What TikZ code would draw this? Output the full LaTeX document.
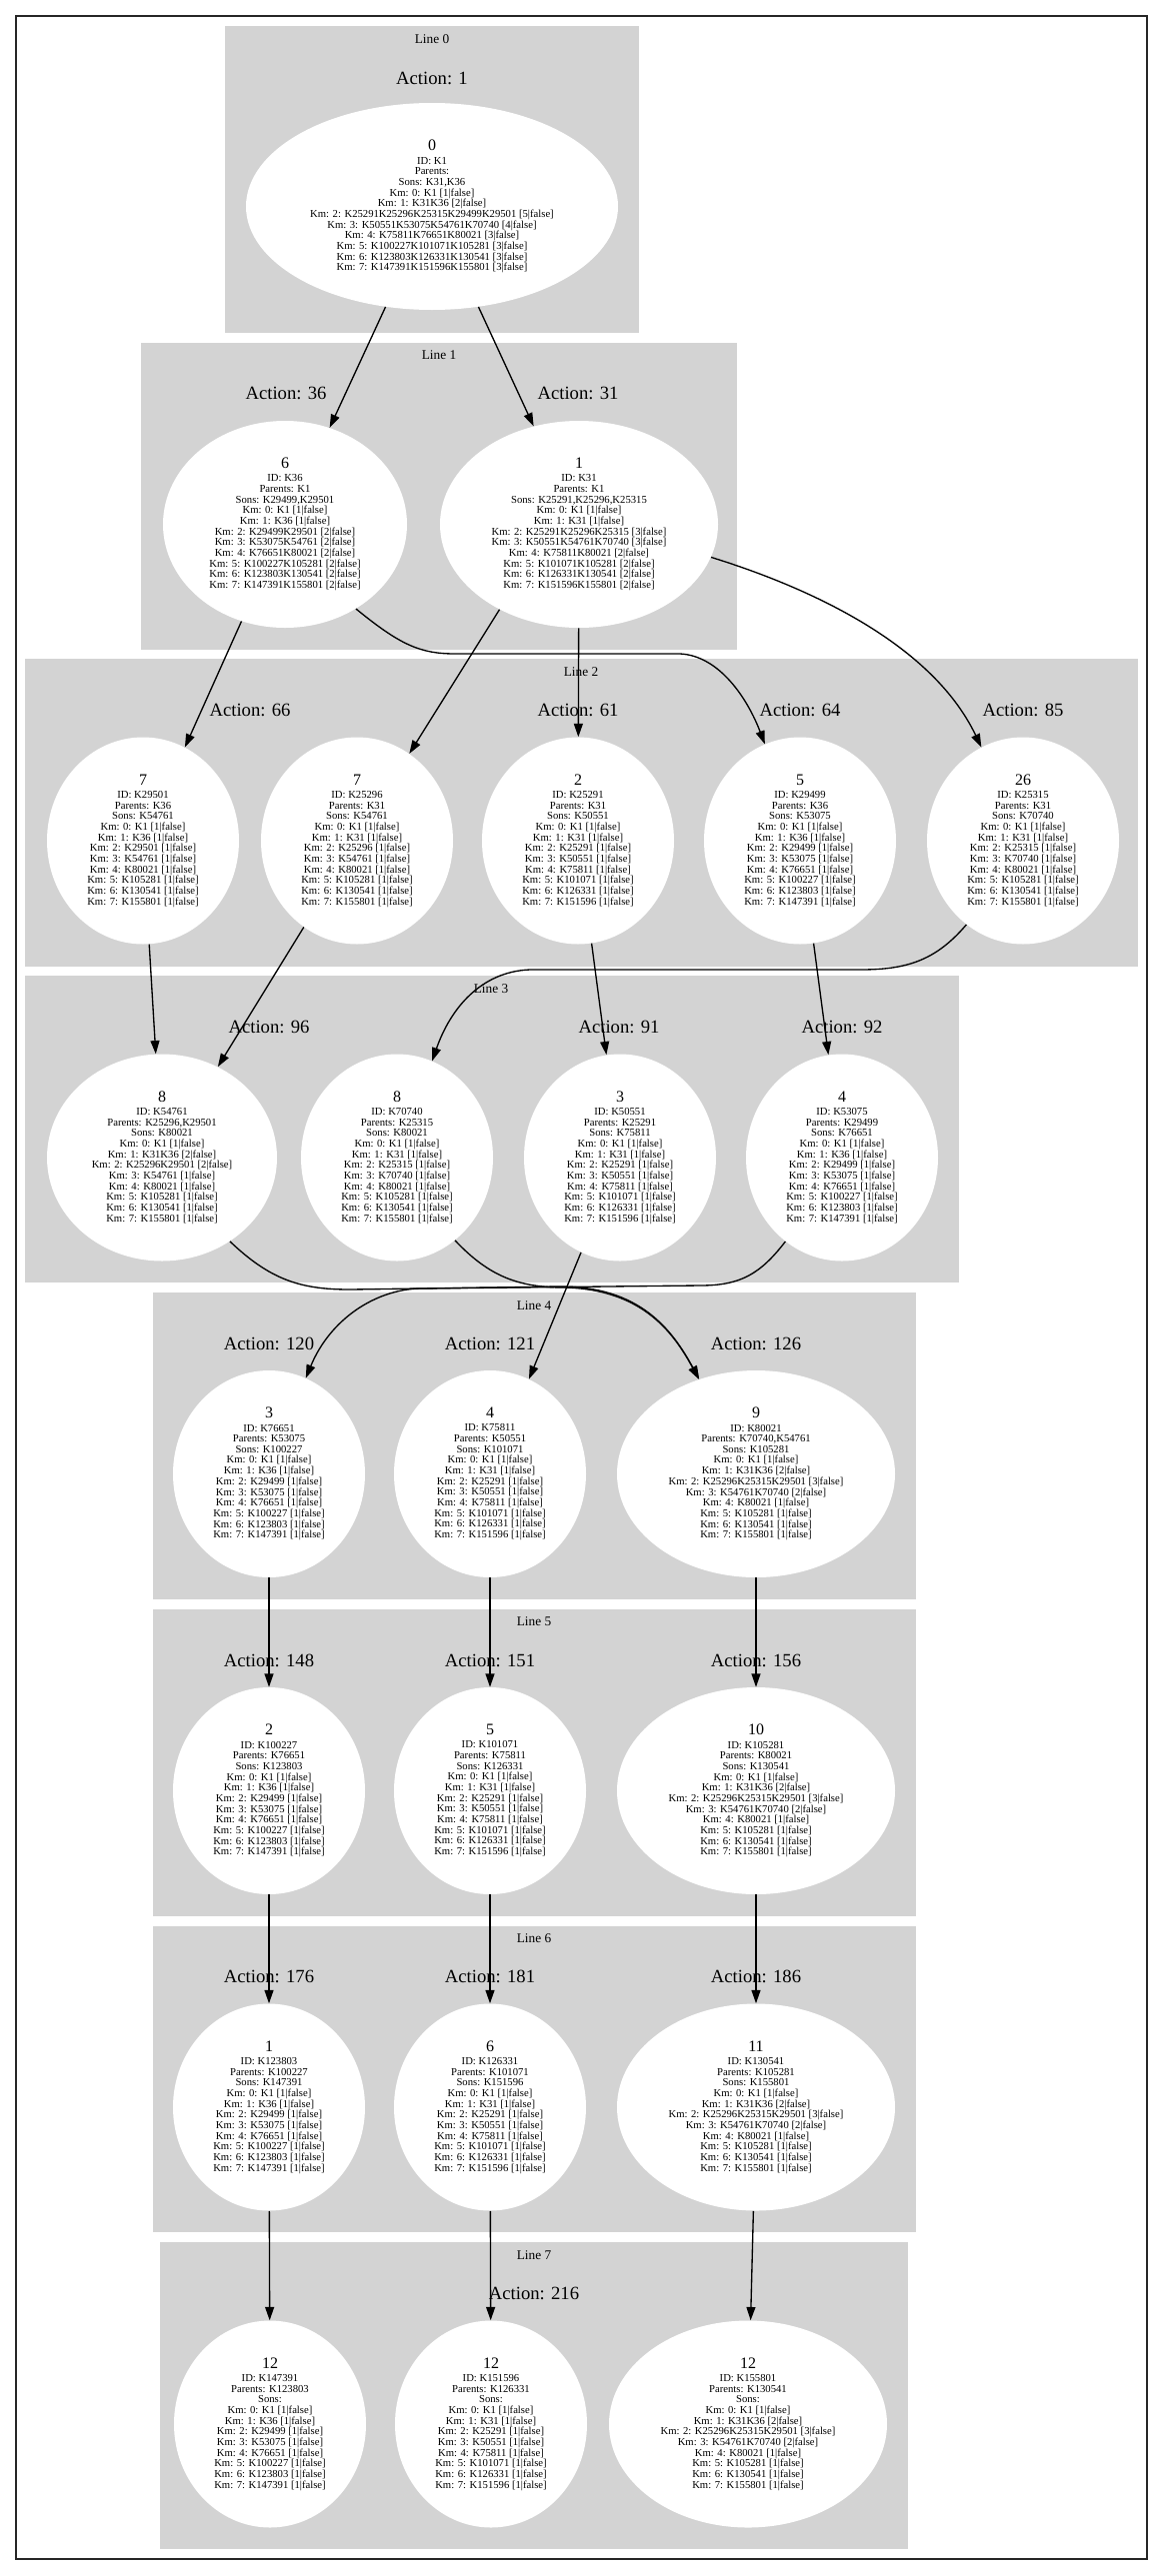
\documentclass[tikz,border=0pt]{standalone}
\usepackage{fontspec}
\setmainfont{Liberation Serif}
\usepackage{tikz}
\usetikzlibrary{arrows.meta,calc}
\usetikzlibrary{positioning,shapes.geometric}
\definecolor{clgray}{HTML}{D3D3D3}

\begin{document}
\begin{tikzpicture}[x=0.75pt,y=-0.75pt]
\tikzstyle{cluster}=[fill=clgray]
\tikzstyle{state}=[ellipse,fill=white,inner sep=0pt,align=center,font=\fontsize{8}{8}\selectfont,minimum width=144pt,minimum height=155.25pt]
\tikzstyle{wide}=[state,minimum width=208.5pt]
\tikzstyle{linelab}=[font=\fontsize{10}{12}\selectfont]
\tikzstyle{actlab}=[font=\fontsize{14}{16}\selectfont]
\tikzstyle{edge}=[draw,line width=1pt,-{Triangle[length=10pt,width=6.7pt]}]
\useasboundingbox (0,0) rectangle (1164,2577);
\draw[line width=1.2pt,black!85] (16,16) rectangle (1147,2560);

% clusters
\fill[cluster] (225,26) rectangle (639,333);
\fill[cluster] (141,343) rectangle (737,650);
\fill[cluster] (25,659) rectangle (1138,967);
\fill[cluster] (25,976) rectangle (959,1283);
\fill[cluster] (153,1293) rectangle (916,1600);
\fill[cluster] (153,1610) rectangle (916,1917);
\fill[cluster] (153,1927) rectangle (916,2233);
\fill[cluster] (160,2243) rectangle (908,2550);

\node[linelab] (L0) at (432,39) {Line 0};
\node[linelab] (L1) at (439,355) {Line 1};
\node[linelab] (L2) at (581,672) {Line 2};
\node[linelab] (L3) at (491,989) {Line 3};
\node[linelab] (L4) at (534,1306) {Line 4};
\node[linelab] (L5) at (534,1622) {Line 5};
\node[linelab] (L6) at (534,1939) {Line 6};
\node[linelab] (L7) at (534,2256) {Line 7};

\node[actlab] (A1) at (432,78) {Action: 1};
\node[actlab] (A36) at (286,393) {Action: 36};
\node[actlab] (A31) at (578,393) {Action: 31};
\node[actlab] (A66) at (250,710) {Action: 66};
\node[actlab] (A61) at (578,710) {Action: 61};
\node[actlab] (A64) at (800,710) {Action: 64};
\node[actlab] (A85) at (1023,710) {Action: 85};
\node[actlab] (A96) at (269,1027) {Action: 96};
\node[actlab] (A91) at (619,1027) {Action: 91};
\node[actlab] (A92) at (842,1027) {Action: 92};
\node[actlab] (A120) at (269,1344) {Action: 120};
\node[actlab] (A121) at (490,1344) {Action: 121};
\node[actlab] (A126) at (756,1344) {Action: 126};
\node[actlab] (A148) at (269,1661) {Action: 148};
\node[actlab] (A151) at (490,1661) {Action: 151};
\node[actlab] (A156) at (756,1661) {Action: 156};
\node[actlab] (A176) at (269,1977) {Action: 176};
\node[actlab] (A181) at (490,1977) {Action: 181};
\node[actlab] (A186) at (756,1977) {Action: 186};
\node[actlab] (A216) at (534,2294) {Action: 216};

% Line 0
\node[state,minimum width=279pt] (n0) at (432,206.5) {{\large 0}\\[2pt]ID: K1\\Parents: \\Sons: K31,K36\\Km: 0: K1 [1|false]\\Km: 1: K31K36 [2|false]\\Km: 2: K25291K25296K25315K29499K29501 [5|false]\\Km: 3: K50551K53075K54761K70740 [4|false]\\Km: 4: K75811K76651K80021 [3|false]\\Km: 5: K100227K101071K105281 [3|false]\\Km: 6: K123803K126331K130541 [3|false]\\Km: 7: K147391K151596K155801 [3|false]};

% Line 1
\node[state,minimum width=183pt] (n6) at (285,524.5) {{\large 6}\\[2pt]ID: K36\\Parents: K1\\Sons: K29499,K29501\\Km: 0: K1 [1|false]\\Km: 1: K36 [1|false]\\Km: 2: K29499K29501 [2|false]\\Km: 3: K53075K54761 [2|false]\\Km: 4: K76651K80021 [2|false]\\Km: 5: K100227K105281 [2|false]\\Km: 6: K123803K130541 [2|false]\\Km: 7: K147391K155801 [2|false]};
\node[wide] (n1) at (579,524.5) {{\large 1}\\[2pt]ID: K31\\Parents: K1\\Sons: K25291,K25296,K25315\\Km: 0: K1 [1|false]\\Km: 1: K31 [1|false]\\Km: 2: K25291K25296K25315 [3|false]\\Km: 3: K50551K54761K70740 [3|false]\\Km: 4: K75811K80021 [2|false]\\Km: 5: K101071K105281 [2|false]\\Km: 6: K126331K130541 [2|false]\\Km: 7: K151596K155801 [2|false]};

% Line 2
\node[state] (n7a) at (143,841) {{\large 7}\\[2pt]ID: K29501\\Parents: K36\\Sons: K54761\\Km: 0: K1 [1|false]\\Km: 1: K36 [1|false]\\Km: 2: K29501 [1|false]\\Km: 3: K54761 [1|false]\\Km: 4: K80021 [1|false]\\Km: 5: K105281 [1|false]\\Km: 6: K130541 [1|false]\\Km: 7: K155801 [1|false]};
\node[state] (n7b) at (357,841) {{\large 7}\\[2pt]ID: K25296\\Parents: K31\\Sons: K54761\\Km: 0: K1 [1|false]\\Km: 1: K31 [1|false]\\Km: 2: K25296 [1|false]\\Km: 3: K54761 [1|false]\\Km: 4: K80021 [1|false]\\Km: 5: K105281 [1|false]\\Km: 6: K130541 [1|false]\\Km: 7: K155801 [1|false]};
\node[state] (n2) at (578,841) {{\large 2}\\[2pt]ID: K25291\\Parents: K31\\Sons: K50551\\Km: 0: K1 [1|false]\\Km: 1: K31 [1|false]\\Km: 2: K25291 [1|false]\\Km: 3: K50551 [1|false]\\Km: 4: K75811 [1|false]\\Km: 5: K101071 [1|false]\\Km: 6: K126331 [1|false]\\Km: 7: K151596 [1|false]};
\node[state] (n5) at (800,841) {{\large 5}\\[2pt]ID: K29499\\Parents: K36\\Sons: K53075\\Km: 0: K1 [1|false]\\Km: 1: K36 [1|false]\\Km: 2: K29499 [1|false]\\Km: 3: K53075 [1|false]\\Km: 4: K76651 [1|false]\\Km: 5: K100227 [1|false]\\Km: 6: K123803 [1|false]\\Km: 7: K147391 [1|false]};
\node[state] (n26) at (1023,841) {{\large 26}\\[2pt]ID: K25315\\Parents: K31\\Sons: K70740\\Km: 0: K1 [1|false]\\Km: 1: K31 [1|false]\\Km: 2: K25315 [1|false]\\Km: 3: K70740 [1|false]\\Km: 4: K80021 [1|false]\\Km: 5: K105281 [1|false]\\Km: 6: K130541 [1|false]\\Km: 7: K155801 [1|false]};

% Line 3
\node[state,minimum width=172.5pt] (n8a) at (162,1158) {{\large 8}\\[2pt]ID: K54761\\Parents: K25296,K29501\\Sons: K80021\\Km: 0: K1 [1|false]\\Km: 1: K31K36 [2|false]\\Km: 2: K25296K29501 [2|false]\\Km: 3: K54761 [1|false]\\Km: 4: K80021 [1|false]\\Km: 5: K105281 [1|false]\\Km: 6: K130541 [1|false]\\Km: 7: K155801 [1|false]};
\node[state] (n8b) at (397,1158) {{\large 8}\\[2pt]ID: K70740\\Parents: K25315\\Sons: K80021\\Km: 0: K1 [1|false]\\Km: 1: K31 [1|false]\\Km: 2: K25315 [1|false]\\Km: 3: K70740 [1|false]\\Km: 4: K80021 [1|false]\\Km: 5: K105281 [1|false]\\Km: 6: K130541 [1|false]\\Km: 7: K155801 [1|false]};
\node[state] (n3) at (620,1158) {{\large 3}\\[2pt]ID: K50551\\Parents: K25291\\Sons: K75811\\Km: 0: K1 [1|false]\\Km: 1: K31 [1|false]\\Km: 2: K25291 [1|false]\\Km: 3: K50551 [1|false]\\Km: 4: K75811 [1|false]\\Km: 5: K101071 [1|false]\\Km: 6: K126331 [1|false]\\Km: 7: K151596 [1|false]};
\node[state] (n4) at (842,1158) {{\large 4}\\[2pt]ID: K53075\\Parents: K29499\\Sons: K76651\\Km: 0: K1 [1|false]\\Km: 1: K36 [1|false]\\Km: 2: K29499 [1|false]\\Km: 3: K53075 [1|false]\\Km: 4: K76651 [1|false]\\Km: 5: K100227 [1|false]\\Km: 6: K123803 [1|false]\\Km: 7: K147391 [1|false]};

% Line 4
\node[state] (n3b) at (269,1474.5) {{\large 3}\\[2pt]ID: K76651\\Parents: K53075\\Sons: K100227\\Km: 0: K1 [1|false]\\Km: 1: K36 [1|false]\\Km: 2: K29499 [1|false]\\Km: 3: K53075 [1|false]\\Km: 4: K76651 [1|false]\\Km: 5: K100227 [1|false]\\Km: 6: K123803 [1|false]\\Km: 7: K147391 [1|false]};
\node[state] (n4b) at (490,1474.5) {{\large 4}\\[2pt]ID: K75811\\Parents: K50551\\Sons: K101071\\Km: 0: K1 [1|false]\\Km: 1: K31 [1|false]\\Km: 2: K25291 [1|false]\\Km: 3: K50551 [1|false]\\Km: 4: K75811 [1|false]\\Km: 5: K101071 [1|false]\\Km: 6: K126331 [1|false]\\Km: 7: K151596 [1|false]};
\node[wide] (n9) at (756,1474.5) {{\large 9}\\[2pt]ID: K80021\\Parents: K70740,K54761\\Sons: K105281\\Km: 0: K1 [1|false]\\Km: 1: K31K36 [2|false]\\Km: 2: K25296K25315K29501 [3|false]\\Km: 3: K54761K70740 [2|false]\\Km: 4: K80021 [1|false]\\Km: 5: K105281 [1|false]\\Km: 6: K130541 [1|false]\\Km: 7: K155801 [1|false]};

% Line 5
\node[state] (n2c) at (269,1791.5) {{\large 2}\\[2pt]ID: K100227\\Parents: K76651\\Sons: K123803\\Km: 0: K1 [1|false]\\Km: 1: K36 [1|false]\\Km: 2: K29499 [1|false]\\Km: 3: K53075 [1|false]\\Km: 4: K76651 [1|false]\\Km: 5: K100227 [1|false]\\Km: 6: K123803 [1|false]\\Km: 7: K147391 [1|false]};
\node[state] (n5c) at (490,1791.5) {{\large 5}\\[2pt]ID: K101071\\Parents: K75811\\Sons: K126331\\Km: 0: K1 [1|false]\\Km: 1: K31 [1|false]\\Km: 2: K25291 [1|false]\\Km: 3: K50551 [1|false]\\Km: 4: K75811 [1|false]\\Km: 5: K101071 [1|false]\\Km: 6: K126331 [1|false]\\Km: 7: K151596 [1|false]};
\node[wide] (n10) at (756,1791.5) {{\large 10}\\[2pt]ID: K105281\\Parents: K80021\\Sons: K130541\\Km: 0: K1 [1|false]\\Km: 1: K31K36 [2|false]\\Km: 2: K25296K25315K29501 [3|false]\\Km: 3: K54761K70740 [2|false]\\Km: 4: K80021 [1|false]\\Km: 5: K105281 [1|false]\\Km: 6: K130541 [1|false]\\Km: 7: K155801 [1|false]};

% Line 6
\node[state] (n1c) at (269,2108) {{\large 1}\\[2pt]ID: K123803\\Parents: K100227\\Sons: K147391\\Km: 0: K1 [1|false]\\Km: 1: K36 [1|false]\\Km: 2: K29499 [1|false]\\Km: 3: K53075 [1|false]\\Km: 4: K76651 [1|false]\\Km: 5: K100227 [1|false]\\Km: 6: K123803 [1|false]\\Km: 7: K147391 [1|false]};
\node[state] (n6c) at (490,2108) {{\large 6}\\[2pt]ID: K126331\\Parents: K101071\\Sons: K151596\\Km: 0: K1 [1|false]\\Km: 1: K31 [1|false]\\Km: 2: K25291 [1|false]\\Km: 3: K50551 [1|false]\\Km: 4: K75811 [1|false]\\Km: 5: K101071 [1|false]\\Km: 6: K126331 [1|false]\\Km: 7: K151596 [1|false]};
\node[wide] (n11) at (756,2108) {{\large 11}\\[2pt]ID: K130541\\Parents: K105281\\Sons: K155801\\Km: 0: K1 [1|false]\\Km: 1: K31K36 [2|false]\\Km: 2: K25296K25315K29501 [3|false]\\Km: 3: K54761K70740 [2|false]\\Km: 4: K80021 [1|false]\\Km: 5: K105281 [1|false]\\Km: 6: K130541 [1|false]\\Km: 7: K155801 [1|false]};

% Line 7
\node[state] (n12a) at (270,2425) {{\large 12}\\[2pt]ID: K147391\\Parents: K123803\\Sons: \\Km: 0: K1 [1|false]\\Km: 1: K36 [1|false]\\Km: 2: K29499 [1|false]\\Km: 3: K53075 [1|false]\\Km: 4: K76651 [1|false]\\Km: 5: K100227 [1|false]\\Km: 6: K123803 [1|false]\\Km: 7: K147391 [1|false]};
\node[state] (n12b) at (491,2425) {{\large 12}\\[2pt]ID: K151596\\Parents: K126331\\Sons: \\Km: 0: K1 [1|false]\\Km: 1: K31 [1|false]\\Km: 2: K25291 [1|false]\\Km: 3: K50551 [1|false]\\Km: 4: K75811 [1|false]\\Km: 5: K101071 [1|false]\\Km: 6: K126331 [1|false]\\Km: 7: K151596 [1|false]};
\node[wide] (n12c) at (748,2425) {{\large 12}\\[2pt]ID: K155801\\Parents: K130541\\Sons: \\Km: 0: K1 [1|false]\\Km: 1: K31K36 [2|false]\\Km: 2: K25296K25315K29501 [3|false]\\Km: 3: K54761K70740 [2|false]\\Km: 4: K80021 [1|false]\\Km: 5: K105281 [1|false]\\Km: 6: K130541 [1|false]\\Km: 7: K155801 [1|false]};

% edges
\draw[edge] (n0) -- (n6);
\draw[edge] (n0) -- (n1);
\draw[edge] (n6) -- (n7a);
\draw[edge] (n1.-133) -- (n7b.59);
\draw[edge] (n1) -- (n2);
\draw[edge] (n6.-50) .. controls (400,645) and (420,654) .. (455,654) -- (680,654) .. controls (720,656) and (748,700) .. (n5.110);
\draw[edge] (n1.-14) .. controls (800,585) and (930,640) .. (n26.114);
\draw[edge] (n7a) -- (n8a);
\draw[edge] (n7b) -- (n8a);
\draw[edge] (n2) -- (n3);
\draw[edge] (n5) -- (n4);
\draw[edge] (n26.-124) .. controls (935,962) and (905,970) .. (860,970) -- (530,970) .. controls (480,972) and (450,1010) .. (n8b.70);
\draw[edge] (n3) -- (n4b);
\draw[edge] (n4.-124) .. controls (760,1275) and (740,1286) .. (700,1286) -- (420,1289) .. controls (375,1290) and (330,1320) .. (n3b.69);
\draw[edge] (n8a.-51) .. controls (270,1280) and (300,1290) .. (350,1290) -- (560,1287) .. controls (640,1287) and (672,1330) .. (n9.121);
\draw[edge] (n8b.-55) .. controls (490,1278) and (520,1288) .. (565,1288) .. controls (640,1290) and (672,1330) .. (n9.121);
\draw[edge] (n3b) -- (n2c);
\draw[edge] (n4b) -- (n5c);
\draw[edge] (n9) -- (n10);
\draw[edge] (n2c) -- (n1c);
\draw[edge] (n5c) -- (n6c);
\draw[edge] (n10) -- (n11);
\draw[edge] (n1c) -- (n12a);
\draw[edge] (n6c) -- (n12b);
\draw[edge] (n11) -- (n12c);
\end{tikzpicture}
\end{document}
